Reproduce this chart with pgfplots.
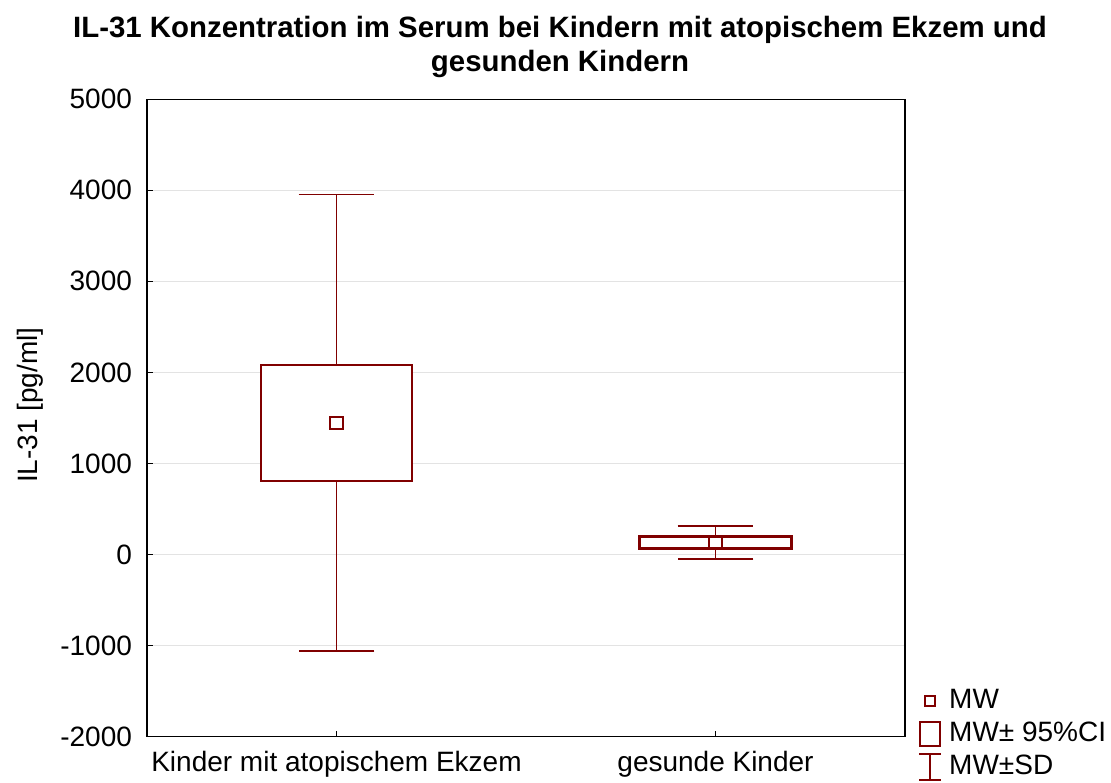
\documentclass[border=0pt]{standalone}
\usepackage{fontspec}
\setmainfont{Liberation Sans}
\usepackage{pgfplots}
\pgfplotsset{compat=1.18}
\definecolor{mr}{RGB}{128,0,0}
\begin{document}
\begin{tikzpicture}
\useasboundingbox (-73.5pt,-22.75pt) rectangle (482pt,368.25pt);
\begin{axis}[
  scale only axis, width=379pt, height=318.6pt,
  xmin=-0.5, xmax=1.5, ymin=-2000, ymax=5000,
  xtick={0,1}, xticklabels={Kinder mit atopischem Ekzem, gesunde Kinder},
  ytick={-2000,-1000,0,1000,2000,3000,4000,5000},
  xtick pos=bottom, ytick pos=left, tick align=inside,
  major tick length=3pt,
  axis line style={black, line width=0.7pt},
  every tick/.style={black, line width=0.7pt},
  ymajorgrids, grid style={gray!22, line width=0.6pt},
  /pgf/number format/assume math mode=true,
  /pgf/number format/1000 sep={},
  ticklabel style={font=\fontsize{14}{16}\selectfont},
  yticklabel style={xshift=-4pt},
  xticklabel style={yshift=-3.7pt},
  ylabel={IL-31 [pg/ml]},
  every axis y label/.style={at={(rel axis cs:-0.154,0.52)}, rotate=90, anchor=center,
    font=\fontsize{14}{16}\selectfont},
  legend cell align=left,
  legend style={draw=none, fill=none, at={(rel axis cs:1.017,0.082)}, anchor=north west,
    inner sep=0pt, row sep=0pt,
    nodes={inner sep=1.5pt, text height=10.5pt, text depth=3pt},
    font=\fontsize{14}{16}\selectfont},
]
\addlegendimage{legend image code/.code={\path[draw=none,fill=none] (0pt,0pt) (13.5pt,0pt); \draw[mr, line width=0.9pt, fill=white] (3pt,-2.5pt) rectangle (8pt,2.5pt);}}
\addlegendentry{MW}
\addlegendimage{legend image code/.code={\path[draw=none,fill=none] (0pt,0pt) (13.5pt,0pt); \draw[mr, line width=1.2pt, fill=white] (0.5pt,-6pt) rectangle (10.5pt,6pt);}}
\addlegendentry{MW± 95\%CI}
\addlegendimage{legend image code/.code={\path[draw=none,fill=none] (0pt,0pt) (13.5pt,0pt); \draw[mr, line width=0.9pt] (0pt,6.5pt) -- (11pt,6.5pt) (5.5pt,6.5pt) -- (5.5pt,-6.5pt) (0pt,-6.5pt) -- (11pt,-6.5pt);}}
\addlegendentry{MW±SD}

% MW +- SD whiskers
\addplot[mr, draw=none, mark=none,
  error bars/.cd, y dir=both, y explicit,
  error mark=|, error mark options={mr, line width=0.9pt, mark size=18.95pt},
  error bar style={draw=mr, line width=0.9pt}]
  coordinates {(0,1445) +- (0,2510) (1,130) +- (0,180)};
% MW +- 95% CI boxes
\addplot[mr, line width=1.1pt, fill=white] coordinates {(-0.2,803) (0.2,803) (0.2,2084) (-0.2,2084)} --cycle;
\addplot[mr, line width=1.5pt, fill=white] coordinates {(0.8,62) (1.2,62) (1.2,197) (0.8,197)} --cycle;
% MW
\addplot[mr, only marks, mark=square, mark size=3.2pt, line width=1pt, mark options={fill=white}]
  coordinates {(0,1445) (1,130)};
\end{axis}
\node[font=\bfseries\fontsize{14.7}{17}\selectfont, align=center] at (206.5pt,344.75pt)
  {IL-31 Konzentration im Serum bei Kindern mit atopischem Ekzem und\\gesunden Kindern};
\end{tikzpicture}
\end{document}
